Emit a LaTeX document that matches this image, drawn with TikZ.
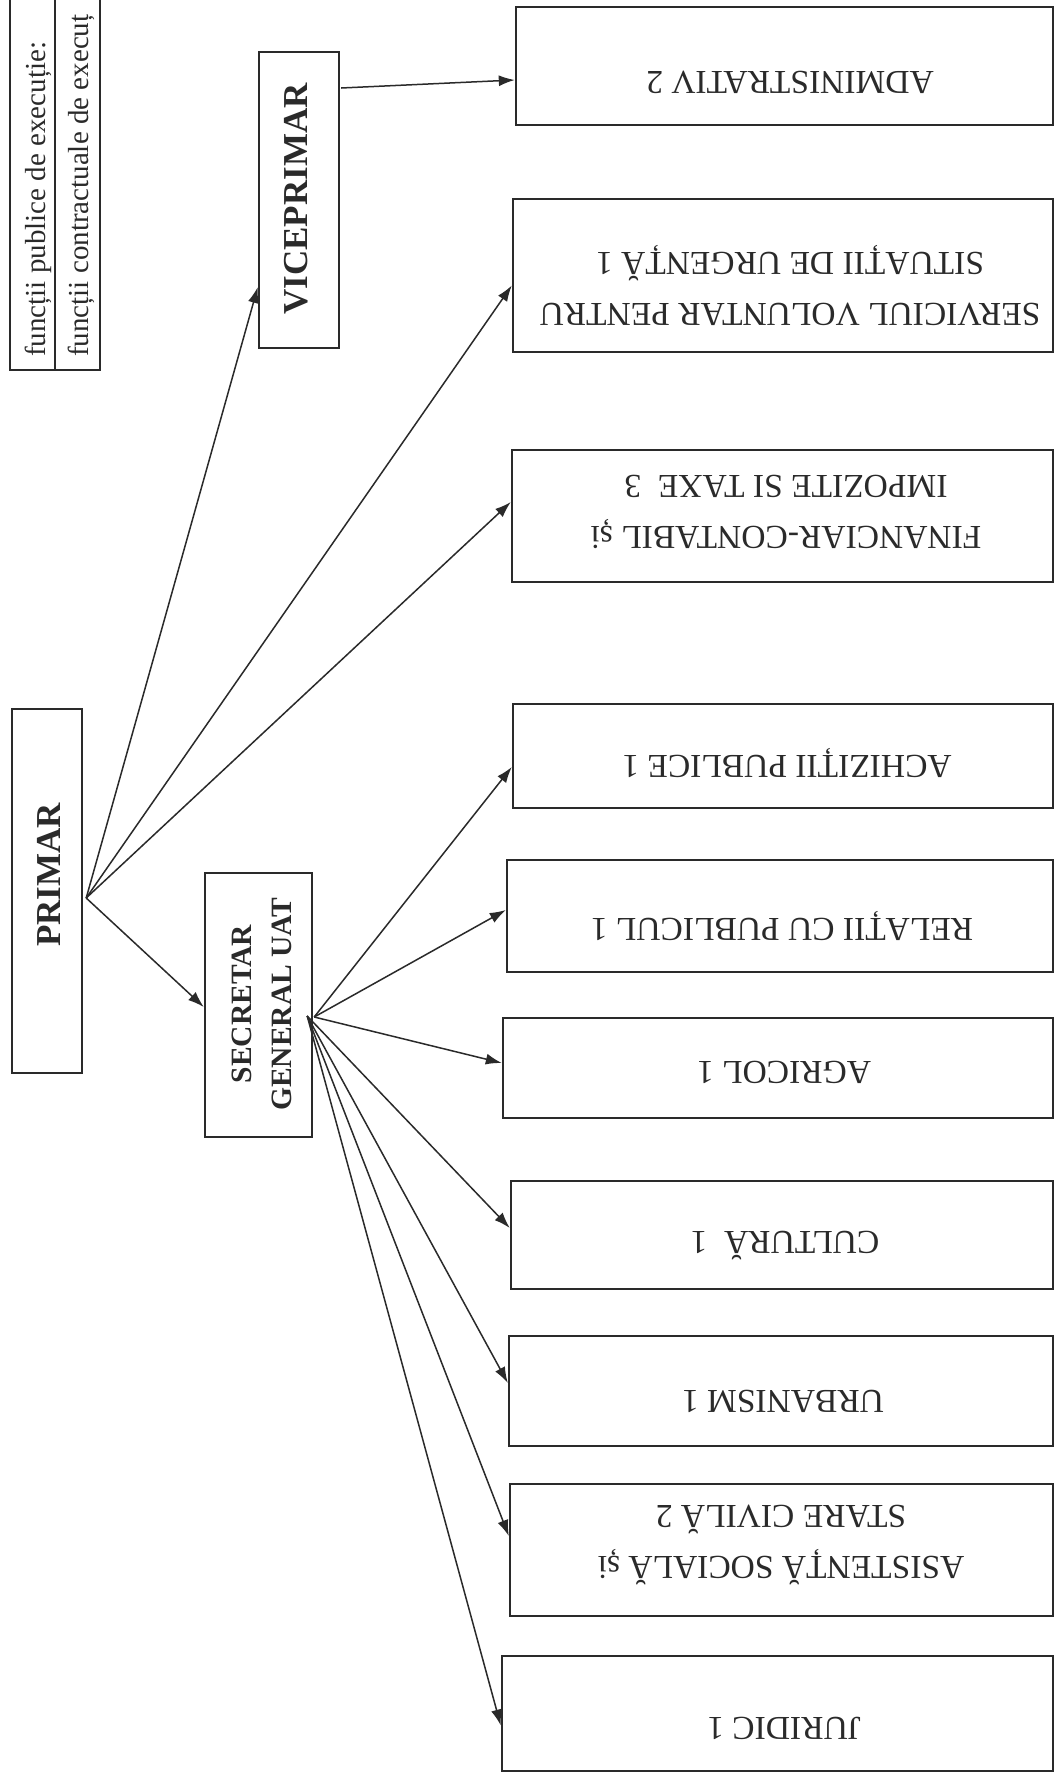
\documentclass[tikz,border=0pt]{standalone}
\usepackage{fontspec}
\setmainfont{Liberation Serif}
\usetikzlibrary{arrows.meta,calc}
\definecolor{ink}{RGB}{42,42,42}
\begin{document}
\begin{tikzpicture}[x=1pt,y=-1pt,
  box/.style={draw=ink,line width=2.4pt,inner sep=0pt,rectangle},
  unit/.style={text=ink,font=\fontsize{33.5}{51}\selectfont,rotate=180,align=center,inner sep=0pt},
  head/.style={text=ink,font=\bfseries\fontsize{35}{40}\selectfont,rotate=90,align=center,inner sep=0pt},
  arr/.style={draw=ink,line width=1.5pt,-{Latex[length=16pt,width=11pt]}},
  tabtxt/.style={text=ink,font=\fontsize{29}{34}\selectfont,rotate=90,anchor=base west,inner sep=0pt}]
\useasboundingbox (0,0) rectangle (1055,1783);
\fill[white] (0,0) rectangle (1055,1783);

% legend table (cut by the page edge)
\begin{scope}
\clip (0,0) rectangle (1055,1783);
\draw[ink,line width=1.7pt] (10,0) -- (10,370) -- (100,370) -- (100,0);
\draw[ink,line width=1.7pt] (55,0) -- (55,370);
\node[tabtxt] (tab1) at (45,357) {funcții publice de execuție:};
\node[tabtxt] (tab2) at (88,357) {funcții contractuale de execuț};
\end{scope}

% left column boxes
\node[box,minimum width=70pt,minimum height=364pt] (prim) at (47,891) {};
\node[head] (tprim) at (49,875) {PRIMAR};
\node[box,minimum width=80pt,minimum height=296pt] (vice) at (299,200) {};
\node[head] (tvice) at (296,199) {VICEPRIMAR};
\node[box,minimum width=107pt,minimum height=264pt] (sec) at (258.5,1005) {};
\node[head,font=\bfseries\fontsize{29.5}{40}\selectfont] (tsec) at (262,1004) {SECRETAR\\GENERAL UAT};

% right column boxes
\node[box,minimum width=537pt,minimum height=118pt] (admin) at (784.5,66) {};
\node[unit] (tadmin) at (790,82) {ADMINISTRATIV 2};
\node[box,minimum width=540pt,minimum height=153pt] (serv) at (783,275.5) {};
\node[unit] (tserv) at (790,286) {SERVICIUL VOLUNTAR PENTRU\\SITUAȚII DE URGENȚĂ 1};
\node[box,minimum width=541pt,minimum height=132pt] (fin) at (782.5,516) {};
\node[unit] (tfin) at (786,512) {FINANCIAR-CONTABIL și\\IMPOZITE SI TAXE\ \ 3};
\node[box,minimum width=540pt,minimum height=104pt] (achiz) at (783,756) {};
\node[unit] (tachiz) at (787,763) {ACHIZIȚII PUBLICE 1};
\node[box,minimum width=546pt,minimum height=112pt] (rel) at (780,916) {};
\node[unit] (trel) at (782,926) {RELAȚII CU PUBLICUL 1};
\node[box,minimum width=550pt,minimum height=100pt] (agr) at (778,1068) {};
\node[unit] (tagr) at (784,1072) {AGRICOL 1};
\node[box,minimum width=542pt,minimum height=108pt] (cult) at (782,1235) {};
\node[unit] (tcult) at (785,1245) {CULTURĂ\ \ 1};
\node[box,minimum width=544pt,minimum height=110pt] (urb) at (781,1391) {};
\node[unit] (turb) at (783,1401) {URBANISM 1};
\node[box,minimum width=543pt,minimum height=132pt] (asis) at (781.5,1550) {};
\node[unit] (tasis) at (781,1545) {ASISTENȚĂ SOCIALĂ și\\STARE CIVILĂ 2};
\node[box,minimum width=551pt,minimum height=115pt] (jur) at (777.5,1713.5) {};
\node[unit] (tjur) at (784,1728) {JURIDIC 1};

% connectors from PRIMAR
\coordinate (po) at ($(prim.east)+(3,7)$);
\draw[arr] (po) -- ($(vice.west)+(0,87)$);
\draw[arr] (po) -- ($(serv.west)+(0,10)$);
\draw[arr] (po) -- ($(fin.west)+(0,-14)$);
\draw[arr] (po) -- ($(sec.west)+(0,2)$);

% VICEPRIMAR
\draw[arr] ($(vice.east)+(1,-112)$) -- ($(admin.west)+(0,14)$);

% connectors from SECRETAR GENERAL UAT
\coordinate (so) at ($(sec.east)+(1,12)$);
\coordinate (so2) at ($(sec.east)+(-6,11)$);
\draw[arr] (so) -- ($(achiz.west)+(0,11)$);
\draw[arr] (so) -- ($(rel.west)+(0,-6)$);
\draw[arr] (so) -- ($(agr.west)+(0,-5)$);
\draw[arr] (so2) -- ($(cult.west)+(0,-7)$);
\draw[arr] (so2) -- ($(urb.west)+(0,-8)$);
\draw[arr] (so2) -- ($(asis.west)+(0,-14)$);
\draw[arr] (so2) -- ($(jur.west)+(0,12)$);
\end{tikzpicture}
\end{document}
